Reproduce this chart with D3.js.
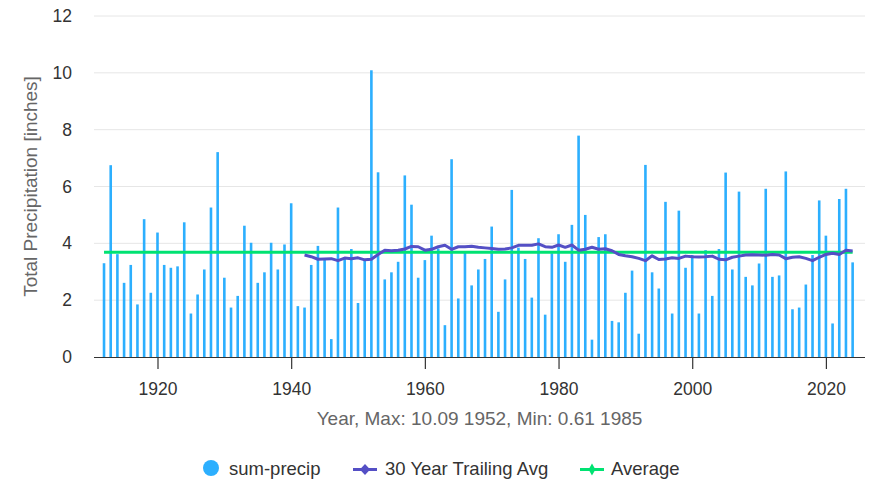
<!DOCTYPE html>
<html>
<head>
<meta charset="utf-8">
<script src="https://cdn.jsdelivr.net/npm/d3@7"></script>
<style>
  html, body { margin: 0; padding: 0; background: #fff; }
  svg { display: block; font-family: "Liberation Sans", Arial, Helvetica, sans-serif; }
</style>
</head>
<body>
<svg id="chart" width="880" height="495"></svg>
<script>
const startYear = 1912;
const precip = [
  3.30,6.75,3.62,2.61,3.24,1.85,4.85,2.26,4.38,3.24,3.14,3.19,4.74,1.53,2.20,3.08,5.26,7.21,2.79,1.74,2.15,4.62,4.02,2.61,2.98,4.02,3.08,3.96,
  5.41,1.79,1.74,3.24,3.91,3.47,0.63,5.26,3.47,3.80,1.90,3.41,10.09,6.50,2.73,2.98,3.35,6.39,5.36,2.79,3.41,4.27,3.82,1.12,6.96,2.06,3.67,2.52,3.08,
  3.45,4.59,1.59,2.73,5.88,3.85,3.45,2.09,4.18,1.49,3.65,4.32,3.35,4.65,7.79,5.00,0.61,4.22,4.32,1.27,1.22,2.26,3.04,0.82,6.76,2.98,2.41,5.46,
  1.53,5.15,3.14,3.59,1.53,3.76,2.15,3.80,6.49,3.08,5.82,2.82,2.52,3.29,5.92,2.82,2.87,6.53,1.68,1.74,2.55,3.59,5.51,4.27,1.18,5.56,5.92,3.33
];
const years = precip.map((_, i) => startYear + i);

const trailStart = 1942;
const trailing = [
  3.59,3.53,3.44,3.45,3.46,3.39,3.48,3.46,3.49,3.42,3.44,3.61,3.76,3.74,3.76,3.80,3.89,3.88,3.76,3.79,3.88,3.93,3.79,3.88,3.88,3.90,3.86,
  3.84,3.82,3.79,3.80,3.84,3.93,3.93,3.93,3.98,3.88,3.86,3.94,3.86,3.94,3.76,3.79,3.86,3.79,3.81,3.74,3.61,3.56,3.53,3.47,3.39,3.56,3.43,3.45,
  3.49,3.47,3.55,3.53,3.52,3.53,3.55,3.44,3.42,3.51,3.55,3.59,3.60,3.59,3.58,3.61,3.59,3.46,3.51,3.53,3.47,3.39,3.51,3.61,3.65,3.61,3.76,3.73
];
const trailYears = trailing.map((_, i) => trailStart + i);

const averageValue = 3.69;
const yTicks = [0, 2, 4, 6, 8, 10, 12];
const xTicks = [1920, 1940, 1960, 1980, 2000, 2020];
const yTitle = "Total Precipitation [inches]";
const xTitle = "Year, Max: 10.09 1952, Min: 0.61 1985";
const legendNames = ["sum-precip", "30 Year Trailing Avg", "Average"];

const colors = { bar: "#2caffe", trail: "#544fc5", avg: "#00e272" };

const svg = d3.select("#chart");
const pL = 94, pR = 865, pT = 16, pB = 357;

const x = d3.scaleLinear().domain([1910.5, 2025.85]).range([pL, pR]);
const y = d3.scaleLinear().domain([0, 12]).range([pB, pT]);

// gridlines
svg.append("g")
  .selectAll("line")
  .data(yTicks.filter(d => d > 0))
  .join("line")
  .attr("x1", pL).attr("x2", pR)
  .attr("y1", d => y(d)).attr("y2", d => y(d))
  .attr("stroke", "#e6e6e6").attr("stroke-width", 1);

// y axis labels
const yAxis = d3.axisLeft(y).tickValues(yTicks).tickSize(0).tickPadding(22);
const gy = svg.append("g").attr("transform", `translate(${pL},0)`).call(yAxis);
gy.select(".domain").remove();
gy.selectAll("text").attr("font-size", 17.5).attr("fill", "#333")
  .attr("font-family", "Liberation Sans, Arial, sans-serif");

// bars
const barW = 2.6;
svg.append("g")
  .selectAll("rect")
  .data(years)
  .join("rect")
  .attr("x", (d) => x(d) - barW / 2)
  .attr("y", (d, i) => y(precip[i]))
  .attr("width", barW)
  .attr("height", (d, i) => y(0) - y(precip[i]))
  .attr("fill", colors.bar);

// average line
svg.append("path")
  .datum([years[0], years[years.length - 1]])
  .attr("d", d3.line().x(d => x(d)).y(() => y(averageValue)))
  .attr("fill", "none").attr("stroke", colors.avg).attr("stroke-width", 3);

// trailing avg line
svg.append("path")
  .datum(trailYears.map((yr, i) => [yr, trailing[i]]))
  .attr("d", d3.line().x(d => x(d[0])).y(d => y(d[1])))
  .attr("fill", "none").attr("stroke", colors.trail).attr("stroke-width", 3)
  .attr("stroke-linejoin", "round");

// x axis
const xAxis = d3.axisBottom(x).tickValues(xTicks).tickFormat(d3.format("d")).tickSize(12).tickPadding(14);
const gx = svg.append("g").attr("transform", `translate(0,${pB})`).call(xAxis);
gx.select(".domain").attr("d", `M${pL},0.5H${pR}`).attr("stroke", "#333").attr("stroke-width", 1.2);
gx.selectAll(".tick line").attr("stroke", "#333").attr("stroke-width", 1.2);
gx.selectAll("text").attr("font-size", 17.5).attr("fill", "#333")
  .attr("font-family", "Liberation Sans, Arial, sans-serif");

// titles
svg.append("text")
  .attr("transform", `translate(37,${(pT + pB) / 2}) rotate(-90)`)
  .attr("text-anchor", "middle")
  .attr("font-size", 19).attr("fill", "#666")
  .text(yTitle);

svg.append("text")
  .attr("x", (pL + pR) / 2).attr("y", 425)
  .attr("text-anchor", "middle")
  .attr("font-size", 19).attr("fill", "#666")
  .text(xTitle);

// legend
const lg = svg.append("g").attr("font-size", 18.5).attr("fill", "#333");
lg.append("circle").attr("cx", 211).attr("cy", 468).attr("r", 8).attr("fill", colors.bar);
lg.append("text").attr("x", 229).attr("y", 475).attr("fill", "#333").text(legendNames[0]);

lg.append("line").attr("x1", 353).attr("x2", 377).attr("y1", 469.5).attr("y2", 469.5)
  .attr("stroke", colors.trail).attr("stroke-width", 3);
lg.append("path").attr("d", d3.symbol(d3.symbolDiamond, 55)()).attr("transform", "translate(365,469.5) scale(1.3,0.8)")
  .attr("fill", colors.trail);
lg.append("text").attr("x", 385).attr("y", 475).attr("fill", "#333").text(legendNames[1]);

lg.append("line").attr("x1", 580).attr("x2", 604).attr("y1", 469.5).attr("y2", 469.5)
  .attr("stroke", colors.avg).attr("stroke-width", 3);
lg.append("path").attr("d", d3.symbol(d3.symbolDiamond, 40)()).attr("transform", "translate(592,469.5)")
  .attr("fill", colors.avg);
lg.append("text").attr("x", 611).attr("y", 475).attr("fill", "#333").text(legendNames[2]);
</script>
</body>
</html>
